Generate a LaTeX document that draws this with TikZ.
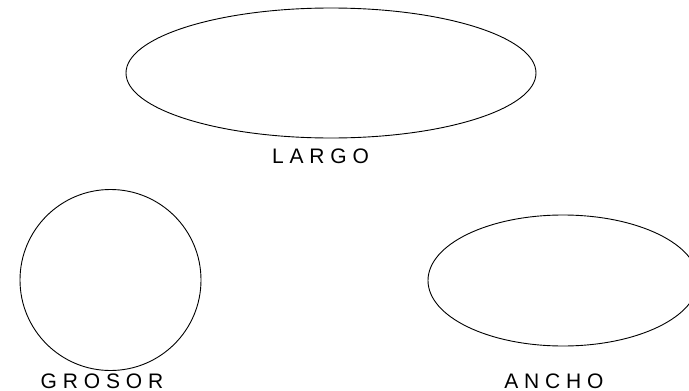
\documentclass[tikz,border=0pt]{standalone}
\usepackage{fontspec}
\setmainfont{Liberation Sans}
\usetikzlibrary{shapes.geometric}
\newcommand{\capfnt}{\fontsize{21}{24}\selectfont}
\tikzset{
  shapeline/.style={draw=black, line width=0.9pt, inner sep=0pt},
  oval/.style={shapeline, ellipse},
  roundshape/.style={shapeline, circle},
  caption/.style={inner sep=0pt, anchor=base}
}
\begin{document}
\begin{tikzpicture}[x=1pt,y=-1pt]
\useasboundingbox (0,0) rectangle (689,391);
\clip (0,0) rectangle (689,391);
\fill[white] (0,0) rectangle (689,391);
\node[oval, minimum width=410pt, minimum height=130pt] (largo) at (331,73) {};
\node[caption] (largoT) at (320.5,163) {\capfnt L A R G O};
\node[roundshape, minimum size=181pt] (grosor) at (110.5,280) {};
\node[caption] (grosorT) at (102,388.5) {\capfnt G R O S O R};
\node[oval, minimum width=270pt, minimum height=131pt] (ancho) at (563,280.5) {};
\node[caption] (anchoT) at (554,388) {\capfnt A N C H O};
\end{tikzpicture}
\end{document}
